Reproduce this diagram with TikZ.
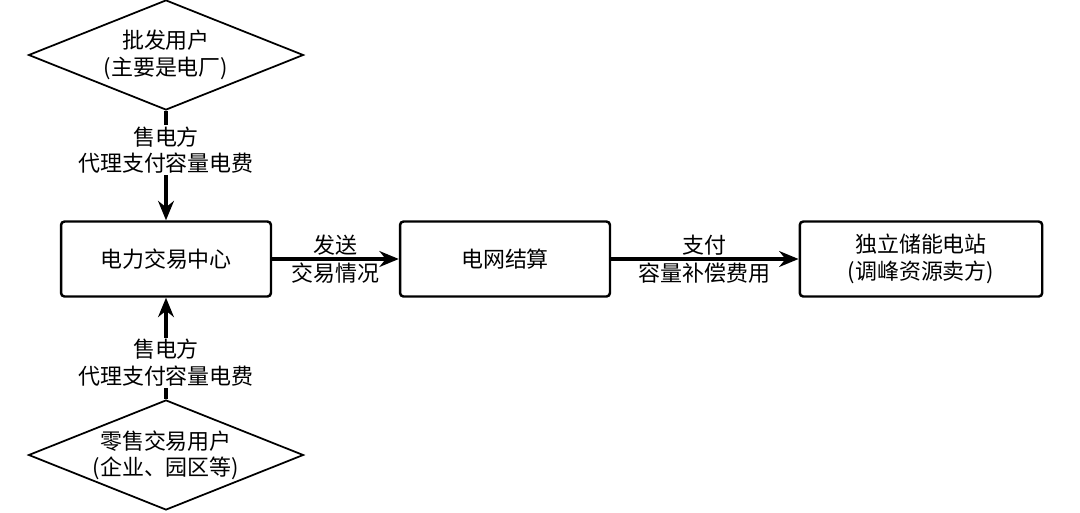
\documentclass[tikz,border=0pt]{standalone}
\usepackage{fontspec}
\setmainfont{Noto Sans CJK SC}
\usetikzlibrary{shapes.geometric, arrows, arrows.meta, positioning}
\tikzset{
	process/.style={rectangle, rounded corners=2pt, minimum width=4.2cm, minimum height=1.5cm, draw=black, line width=1.4pt, align=center},
	user/.style={diamond, aspect=2.5, minimum width=5.5cm, minimum height=2.2cm, inner sep=0pt, draw=black, line width=1pt, align=center},
	arrow/.style={line width=1.8pt,-{Stealth[length=11pt,width=9pt]}},
	lbl/.style={fill=white, align=center, inner sep=1pt}
}
\begin{document}
\begin{tikzpicture}[x=0.02cm, y=-0.02cm, font=\fontsize{12.5}{15}\selectfont]
		\useasboundingbox (0,0) rectangle (1080,512);
		
		% Nodes
		\node (wholesale) [user] at (166,55) {批发用户\\(主要是电厂)};
		\node (retail) [user] at (166,455) {零售交易用户\\(企业、园区等)};
		\node (center) [process] at (166,259) {电力交易中心};
		\node (grid) [process] at (505,259) {电网结算};
		\node (storage) [process, minimum width=4.85cm] at (921,259) {独立储能电站\\(调峰资源卖方)};
		
		% Arrows
		\draw [arrow] (wholesale) -- (center) node [lbl, pos=0.36] {售电方\\代理支付容量电费};
		\draw [arrow] (retail) -- (center) node [lbl, pos=0.36] {售电方\\代理支付容量电费};
		\draw [arrow] (center) -- (grid) node [midway, above=-2pt] {发送} node [midway, below=-2pt] {交易情况};
		\draw [arrow] (grid) -- (storage) node [midway, above=-2pt] {支付} node [midway, below=-2pt] {容量补偿费用};
		
	\end{tikzpicture}
\end{document}
